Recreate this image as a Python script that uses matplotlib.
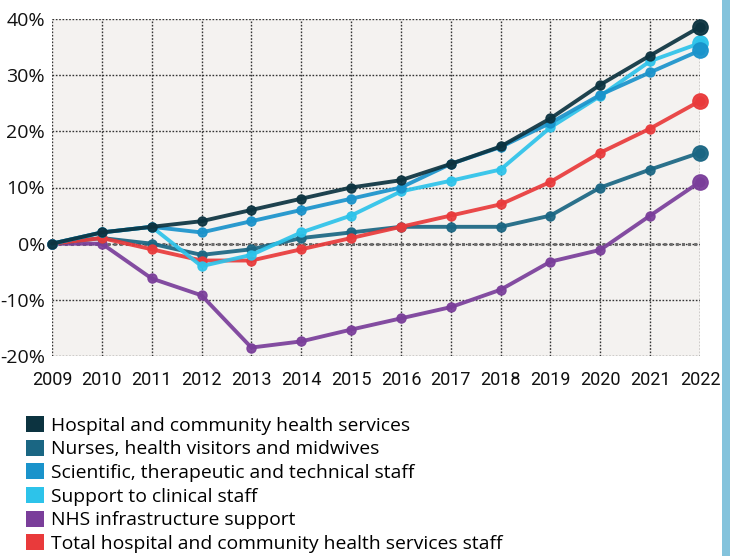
import matplotlib
matplotlib.use("Agg")
import matplotlib.pyplot as plt
from matplotlib.patches import Patch, Rectangle

years = list(range(2009, 2023))

hchs = [0, 2, 3, 4, 6, 8, 10, 11.3, 14.2, 17.3, 22.3, 28.3, 33.5, 38.6]
nurses = [0, 1, 0, -2, -1, 1, 2, 3, 3, 3, 5, 10, 13.2, 16.2]
scientific = [0, 2, 3, 2, 4, 6, 8, 10, 14.2, 17.2, 21.5, 26.5, 30.5, 34.4]
support = [0, 2, 3, -4, -2, 2, 5, 9.3, 11.2, 13.2, 20.7, 26.3, 32.5, 35.7]
infra = [0, 0, -6.2, -9.2, -18.5, -17.4, -15.3, -13.3, -11.3, -8.2, -3.2, -1.1, 5, 11]
total = [0, 1, -1, -3, -3, -1, 1, 3, 5, 7, 11, 16.2, 20.5, 25.4]

labels = [
    "Hospital and community health services",
    "Nurses, health visitors and midwives",
    "Scientific, therapeutic and technical staff",
    "Support to clinical staff",
    "NHS infrastructure support",
    "Total hospital and community health services staff",
]
colors = ["#0c3340", "#1a6683", "#1a93cb", "#2dc3ea", "#7a3e9a", "#e93a3b"]
series = [hchs, nurses, scientific, support, infra, total]
draw_order = [4, 1, 5, 3, 2, 0]

yticks = [-20, -10, 0, 10, 20, 30, 40]

fig = plt.figure(figsize=(7.3, 5.56), dpi=100)
ax = fig.add_axes([52 / 730, 1 - 356 / 556, 648 / 730, 337 / 556])
ax.set_facecolor("#f4f2f0")

for i in draw_order:
    ax.plot(years, series[i], color=colors[i], lw=2.8, marker="o", ms=6.5,
            alpha=0.92, solid_capstyle="round", clip_on=False, zorder=3)
    ax.plot(years[-1], series[i][-1], marker="o", ms=11, color=colors[i],
            alpha=0.95, clip_on=False, zorder=4)

ax.set_xlim(2009, 2022)
ax.set_ylim(-20, 40)
ax.set_xticks(years)
ax.set_yticks(yticks)
ax.set_yticklabels([f"{v}%" for v in yticks], family="Open Sans", fontsize=14)
ax.set_xticklabels([str(y) for y in years], family="Roboto", fontsize=13)
ax.tick_params(length=0, colors="#111111")
ax.tick_params(axis="y", pad=5)
ax.tick_params(axis="x", pad=11)
ax.grid(True, color="#333333", lw=1, ls=(0, (1.2, 1.2)), zorder=1)
ax.axhline(0, color="#6e6e6e", lw=2.2, ls=(0, (1, 1)), zorder=2)
for s in ax.spines.values():
    s.set_visible(False)

handles = [Patch(facecolor=c, edgecolor="none") for c in colors]
leg = fig.legend(handles, labels, loc="upper left", bbox_to_anchor=(0.036, 1 - 416 / 556),
                 frameon=False, prop={"family": "Open Sans", "size": 13.9},
                 handlelength=0.9, handleheight=0.9, handletextpad=0.4,
                 labelspacing=0.26, borderaxespad=0, borderpad=0)

fig.patches.append(Rectangle((722 / 730, 0), 8 / 730, 1, transform=fig.transFigure,
                             facecolor="#84c3dc", edgecolor="none"))

fig.savefig("out.png", dpi=100)
